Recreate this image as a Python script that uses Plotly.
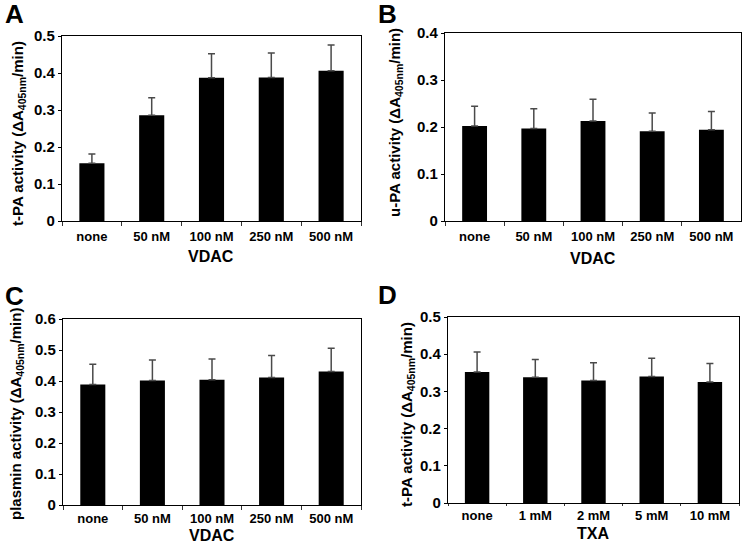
import plotly.graph_objects as go

vdac_cats = ["none", "50 nM", "100 nM", "250 nM", "500 nM"]
txa_cats = ["none", "1 mM", "2 mM", "5 mM", "10 mM"]

tpa_vdac = [0.156, 0.286, 0.387, 0.388, 0.406]
tpa_vdac_err = [0.025, 0.047, 0.065, 0.066, 0.070]

upa_vdac = [0.202, 0.197, 0.213, 0.191, 0.194]
upa_vdac_err = [0.042, 0.042, 0.046, 0.039, 0.039]

plasmin_vdac = [0.389, 0.402, 0.404, 0.411, 0.431]
plasmin_vdac_err = [0.065, 0.066, 0.067, 0.071, 0.075]

tpa_txa = [0.352, 0.338, 0.329, 0.340, 0.325]
tpa_txa_err = [0.054, 0.048, 0.048, 0.049, 0.050]

FONT = "Arial, Liberation Sans, sans-serif"
W, H = 745, 547

# panel boxes in pixels: (x0, x1, ytop, ybottom)
panels = [
    dict(cats=vdac_cats, vals=tpa_vdac, err=tpa_vdac_err, ymax=0.5,
         ytitle="t-PA activity (ΔA<sub>405nm</sub>/min)", xtitle="VDAC",
         box=(62, 361, 36, 221), letter="A", lpos=(3, 14),
         ytpos=(19, 134), xtpos=(211, 256), tl=4, tls=3),
    dict(cats=vdac_cats, vals=upa_vdac, err=upa_vdac_err, ymax=0.4,
         ytitle="u-PA activity (ΔA<sub>405nm</sub>/min)", xtitle="VDAC",
         box=(445, 741, 33, 221), letter="B", lpos=(376, 14),
         ytpos=(395, 123), xtpos=(593, 258), tl=4, tls=3),
    dict(cats=vdac_cats, vals=plasmin_vdac, err=plasmin_vdac_err, ymax=0.6,
         ytitle="plasmin activity (ΔA<sub>405nm</sub>/min)", xtitle="VDAC",
         box=(63, 361, 319, 505), letter="C", lpos=(3, 296),
         ytpos=(16, 414), xtpos=(212, 535.5), tl=4, tls=1),
    dict(cats=txa_cats, vals=tpa_txa, err=tpa_txa_err, ymax=0.5,
         ytitle="t-PA activity (ΔA<sub>405nm</sub>/min)", xtitle="TXA",
         box=(448, 739, 317, 503), letter="D", lpos=(376, 295),
         ytpos=(407, 415), xtpos=(593, 533), tl=2, tls=0),
]

fig = go.Figure()
annotations = []
for i, p in enumerate(panels, start=1):
    sfx = "" if i == 1 else str(i)
    fig.add_trace(go.Bar(
        x=p["cats"], y=p["vals"],
        marker=dict(color="black", line=dict(width=0)),
        error_y=dict(type="data", array=p["err"], symmetric=False,
                     arrayminus=[0] * len(p["err"]),
                     color="#4a4a4a", thickness=1.5, width=3.5),
        xaxis="x" + sfx, yaxis="y" + sfx, showlegend=False,
    ))
    x0, x1, yt, yb = p["box"]
    xa = dict(
        domain=[x0 / W, x1 / W], anchor="y" + sfx,
        showline=True, mirror=True, linecolor="black", linewidth=1.4,
        ticks="outside", ticklen=p["tl"], tickcolor="#333333", tickson="boundaries",
        ticklabelstandoff=p["tls"],
        tickfont=dict(family=FONT, size=13, color="black", weight="bold"),
        showgrid=False, zeroline=False, automargin=False,
    )
    ya = dict(
        domain=[(H - yb) / H, (H - yt) / H], anchor="x" + sfx,
        range=[0, p["ymax"]], dtick=0.1, tick0=0,
        showline=True, mirror=True, linecolor="black", linewidth=1.4,
        ticks="outside", ticklen=3, tickcolor="black",
        tickfont=dict(family=FONT, size=15, color="black", weight="bold"),
        showgrid=False, zeroline=False, automargin=False,
    )
    fig.update_layout(**{"xaxis" + sfx: xa, "yaxis" + sfx: ya})
    lx, ly = p["lpos"]
    annotations.append(dict(
        text=p["letter"], x=lx / W, y=(H - ly) / H, xref="paper", yref="paper",
        xanchor="left", yanchor="middle", showarrow=False,
        font=dict(family=FONT, size=26, color="black", weight="bold"),
    ))
    tx, ty = p["ytpos"]
    annotations.append(dict(
        text=p["ytitle"], x=tx / W, y=(H - ty) / H, xref="paper", yref="paper",
        xanchor="center", yanchor="middle", showarrow=False, textangle=-90,
        font=dict(family=FONT, size=15, color="black", weight="bold"),
    ))
    qx, qy = p["xtpos"]
    annotations.append(dict(
        text=p["xtitle"], x=qx / W, y=(H - qy) / H, xref="paper", yref="paper",
        xanchor="center", yanchor="middle", showarrow=False,
        font=dict(family=FONT, size=16, color="black", weight="bold"),
    ))

fig.update_layout(
    width=W, height=H, margin=dict(l=0, r=0, t=0, b=0),
    paper_bgcolor="white", plot_bgcolor="white",
    bargap=0.58, annotations=annotations,
    font=dict(family=FONT, color="black"),
)

fig.write_html("out.html", config={"displayModeBar": False},
               post_script="document.body.style.margin='0';")
